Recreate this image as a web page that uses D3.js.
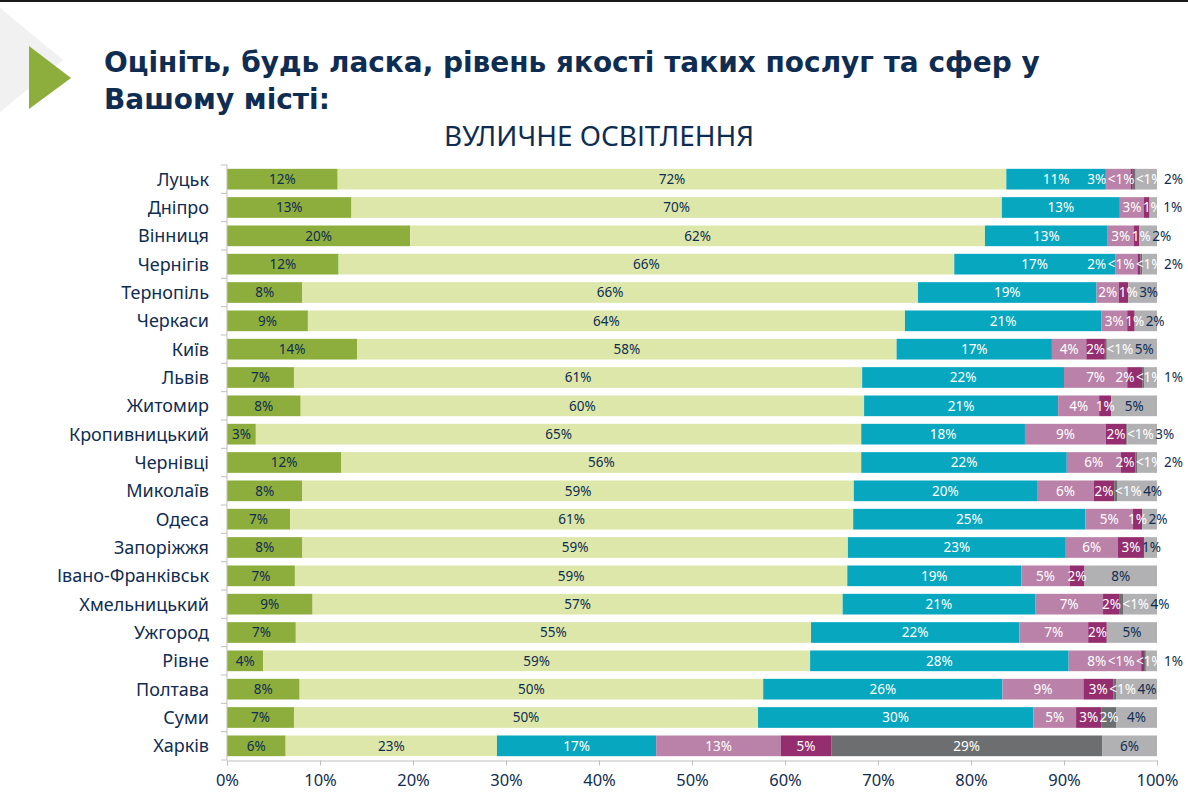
<!DOCTYPE html>
<html><head><meta charset="utf-8">
<script src="https://cdn.jsdelivr.net/npm/d3@7"></script>
<style>
html,body{margin:0;padding:0;background:#fff;}
svg{display:block;}
</style></head>
<body>
<svg id="chart" width="1188" height="801"></svg>
<script>
// ---- data ----
const title1 = "Оцініть, будь ласка, рівень якості таких послуг та сфер у";
const title2 = "Вашому місті:";
const subtitle = "ВУЛИЧНЕ ОСВІТЛЕННЯ";
const cities = ["Луцьк","Дніпро","Вінниця","Чернігів","Тернопіль","Черкаси","Київ","Львів","Житомир","Кропивницький","Чернівці","Миколаїв","Одеса","Запоріжжя","Івано-Франківськ","Хмельницький","Ужгород","Рівне","Полтава","Суми","Харків"];
// values in % (below 0.5 is labelled "<1%")
const veryGood  = [11.9,13.4,19.7,12.0, 8.1, 8.7,14.0, 7.2, 7.9, 3.1,12.3, 8.1, 6.8, 8.1, 7.3, 9.2, 7.4, 3.9, 7.8, 7.2, 6.3];
const good      = [71.9,70.0,61.8,66.2,66.2,64.2,58.0,61.1,60.4,65.1,55.9,59.3,60.6,58.6,59.4,57.0,55.4,58.8,49.8,49.9,22.7];
const average   = [10.7,12.7,13.2,17.3,19.2,21.1,16.7,21.7,20.8,17.6,22.1,19.7,25.0,23.4,18.7,20.7,22.4,27.8,25.7,29.6,17.1];
const bad       = [ 2.7, 2.6, 2.8, 2.4, 2.4, 2.8, 3.7, 6.8, 4.4, 8.7, 5.8, 6.1, 5.1, 5.6, 5.2, 7.3, 7.4, 7.8, 8.7, 4.6,13.4];
const veryBad   = [ 0.2, 0.6, 0.6, 0.3, 1.0, 0.8, 2.0, 1.6, 1.3, 2.2, 1.6, 2.2, 1.0, 2.8, 1.6, 1.8, 2.0, 0.3, 3.2, 2.7, 5.4];
const noService = [ 0.3, 0,   0,   0.2, 0,   0,   0.2, 0.2, 0,   0.1, 0.2, 0.3, 0,   0,   0,   0.4, 0,   0.2, 0.3, 1.6,29.1];
const hardToSay = [ 2.3, 0.8, 1.9, 1.6, 3.1, 2.4, 5.4, 1.4, 4.9, 3.2, 2.1, 4.3, 1.6, 1.4, 7.8, 3.6, 5.4, 1.2, 4.4, 4.4, 5.9];
const xTicks = [0,0.1,0.2,0.3,0.4,0.5,0.6,0.7,0.8,0.9,1];

const seriesKeys = ["veryGood","good","average","bad","veryBad","noService","hardToSay"];
const seriesData = [veryGood,good,average,bad,veryBad,noService,hardToSay];
const colors = ["#8DAE3D","#DCE7A9","#07A7C0","#BA82A8","#952E6F","#6D6E70","#B1B1B3"];
const navy = "#0F2D52";
const labelColors = [navy,navy,"#fff","#fff","#fff","#fff",navy];

const rows = cities.map((c,i)=>{const o={city:c}; seriesKeys.forEach((k,j)=>o[k]=seriesData[j][i]); return o;});
const fmt = v => v < 0.5 ? "<1%" : Math.round(v) + "%";

const svg = d3.select("#chart");
const font = "'Noto Sans', sans-serif";

// decorations
svg.append("rect").attr("x",0).attr("y",0).attr("width",1188).attr("height",2).attr("fill","#1a1a1a");
svg.append("path").attr("d","M0,8 L63,60 L0,112 Z").attr("fill","#F1F1F1");
svg.append("path").attr("d","M29,46 L71,78 L29,109 Z").attr("fill","#8DAE3D");

// title
const tfont = "'DejaVu Sans', sans-serif";
const t1 = svg.append("text").attr("x",104).attr("y",72).attr("font-family",tfont).attr("font-weight","bold").attr("font-size",27).attr("fill",navy).text(title1);
const w1 = t1.node().getComputedTextLength();
const tSize = 27*936/w1;
t1.attr("font-size", tSize);
svg.append("text").attr("x",104).attr("y",109).attr("font-family",tfont).attr("font-weight","bold").attr("font-size",tSize).attr("fill",navy).text(title2);
const st = svg.append("text").attr("x",599).attr("y",146).attr("text-anchor","middle").attr("font-family",font).attr("font-size",24).attr("fill",navy).text(subtitle);
const sw = st.node().getComputedTextLength();
st.attr("font-size", 24*310/sw);

// scales
const x = d3.scaleLinear().domain([0,1]).range([227,1157]);
const y = d3.scaleBand().domain(cities).range([165,760]).paddingInner(0.27).paddingOuter(0.135);

const stack = d3.stack().keys(seriesKeys).offset(d3.stackOffsetExpand);
const layers = stack(rows);

const g = svg.append("g");
layers.forEach((layer,li)=>{
  g.append("g").selectAll("rect").data(layer.filter(d=>d[1]>d[0])).join("rect")
    .attr("x",d=>x(d[0])).attr("width",d=>x(d[1])-x(d[0]))
    .attr("y",d=>y(d.data.city)).attr("height",y.bandwidth())
    .attr("fill",colors[li]);
});

// axes
const axisColor = "#BFBFBF";
const step = y.step();
const y0 = y.range()[0];
svg.append("line").attr("x1",227).attr("x2",227).attr("y1",y0).attr("y2",y.range()[1]).attr("stroke",axisColor);
for(let i=0;i<=cities.length;i++){
  svg.append("line").attr("x1",221).attr("x2",227).attr("y1",y0+i*step).attr("y2",y0+i*step).attr("stroke",axisColor);
}
const xAxis = svg.append("g").attr("transform",`translate(0,${y.range()[1]+0.5})`)
  .call(d3.axisBottom(x).tickValues(xTicks).tickFormat(d3.format(".0%")).tickSize(5).tickPadding(9));
xAxis.select(".domain").attr("stroke",axisColor);
xAxis.selectAll(".tick line").attr("stroke",axisColor);
xAxis.selectAll(".tick text").attr("font-family",font).attr("font-size",16.5).attr("fill",navy);

// category labels
svg.append("g").selectAll("text").data(cities).join("text")
  .attr("x",209).attr("y",d=>y(d)+y.bandwidth()/2).attr("dy","0.36em")
  .attr("text-anchor","end").attr("font-family",font).attr("font-size",18).attr("fill",navy).text(d=>d);

// value labels: centred, pushed right when overlapping, pulled back when past the right limit
const lg = svg.append("g").attr("font-family",font).attr("font-size",13.5);
const gap = 1.5, rightLimit = 1183;
rows.forEach((r,ri)=>{
  const items = [];
  layers.forEach((layer,li)=>{
    const v = r[seriesKeys[li]];
    if(!v) return;
    const d = layer[ri];
    const t = lg.append("text").attr("y",y(r.city)+y.bandwidth()/2).attr("dy","0.36em").text(fmt(v));
    items.push({t, li, w:t.node().getComputedTextLength(), c:(x(d[0])+x(d[1]))/2});
  });
  let prevRight = -Infinity;
  items.forEach(it=>{ it.left = Math.max(it.c - it.w/2, prevRight + gap); prevRight = it.left + it.w; });
  let limit = rightLimit;
  for(let i=items.length-1;i>=0;i--){
    const it = items[i];
    if(it.left + it.w > limit) it.left = limit - it.w;
    limit = it.left - gap;
  }
  items.forEach(it=>{
    const mid = it.left + it.w/2;
    it.t.attr("x",it.left).attr("fill", mid > x(1) ? navy : labelColors[it.li]);
  });
});
</script>
</body></html>
